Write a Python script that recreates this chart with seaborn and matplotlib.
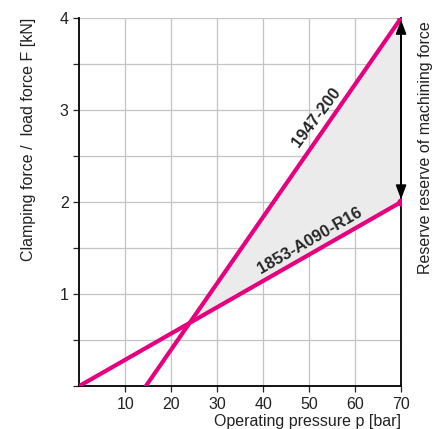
import numpy as np
import pandas as pd
import matplotlib
matplotlib.use('Agg')
import matplotlib.pyplot as plt
import seaborn as sns

# Line end points
pressure_r16 = [0, 70]
force_r16 = [0, 2]
pressure_200 = [14.5, 70]
force_200 = [0, 4]
x_ticks = [10, 20, 30, 40, 50, 60, 70]
y_ticks = [1, 2, 3, 4]

pink = '#e6007e'

sns.set_style('white')
plt.rcParams['font.family'] = ['Liberation Sans', 'DejaVu Sans']

fig = plt.figure(figsize=(4.35, 4.29), dpi=100)
ax = fig.add_axes([0.182, 0.100, 0.740, 0.858])

# grid
for gx in range(10, 70, 10):
    ax.axvline(gx, color='#c4c4c4', lw=0.9, zorder=0)
for gy in np.arange(0.5, 4.01, 0.5):
    ax.axhline(gy, color='#c4c4c4', lw=0.9, zorder=0)

df = pd.DataFrame({
    'p': pressure_r16 + pressure_200,
    'F': force_r16 + force_200,
    'type': ['1853-A090-R16'] * 2 + ['1947-200'] * 2,
})

# shaded reserve between the lines
xs = np.linspace(0, 70, 300)
f1 = np.interp(xs, pressure_r16, force_r16)
f2 = np.interp(xs, pressure_200, force_200, left=np.nan)
ax.fill_between(xs, f1, f2, where=(f2 > f1), color='#ebebeb', zorder=1, lw=0)

sns.lineplot(data=df, x='p', y='F', hue='type', palette=[pink, pink],
             lw=3, legend=False, ax=ax, zorder=3)
ax.plot([70, 70], [force_r16[1], force_200[1]], 'o', color=pink, ms=5, zorder=4)

# reserve arrow (both heads)
head = '-|>,head_length=0.85,head_width=0.32'
ax.annotate('', xy=(70, 3.98), xytext=(70, 3.0),
            arrowprops=dict(arrowstyle=head, color='black', lw=1.2,
                            shrinkA=0, shrinkB=0), zorder=5)
ax.annotate('', xy=(70, 2.03), xytext=(70, 3.0),
            arrowprops=dict(arrowstyle=head, color='black', lw=1.2,
                            shrinkA=0, shrinkB=0), zorder=5)

ax.text(51.5, 2.92, '1947-200', rotation=53, ha='center', va='center',
        fontsize=12, fontweight='bold', zorder=5)
ax.text(50.2, 1.58, '1853-A090-R16', rotation=30, ha='center', va='center',
        fontsize=12, fontweight='bold', zorder=5)

ax.set_xlim(0, 70)
ax.set_ylim(0, 4)
ax.set_xticks(x_ticks)
ax.set_yticks(y_ticks)
ax.set_yticks(np.arange(0, 4.01, 0.5), minor=True)
ax.tick_params(axis='both', labelsize=11.5, colors='#222222', length=4,
               width=0.9, direction='out')
ax.tick_params(axis='y', which='minor', length=4, width=0.9, left=True)
ax.tick_params(axis='x', bottom=True)
ax.tick_params(axis='y', left=True)

for s in ['left', 'bottom', 'right']:
    ax.spines[s].set_color('black')
    ax.spines[s].set_linewidth(1.3)
ax.spines['top'].set_visible(False)

ax.set_xlabel('Operating pressure p [bar]', fontsize=11.5, color='#222222')
ax.xaxis.set_label_coords(1.0, -0.075)
ax.xaxis.label.set_ha('right')
ax.set_ylabel('Clamping force /  load force F [kN]', fontsize=11.5, color='#222222')
ax.yaxis.label.set_ha('right')
ax.yaxis.set_label_coords(-0.135, 1.0)

fig.text(0.978, 0.655, 'Reserve reserve of machining force', rotation=90,
         ha='center', va='center', fontsize=11.5, color='#222222')

fig.savefig('out.png', dpi=100)
